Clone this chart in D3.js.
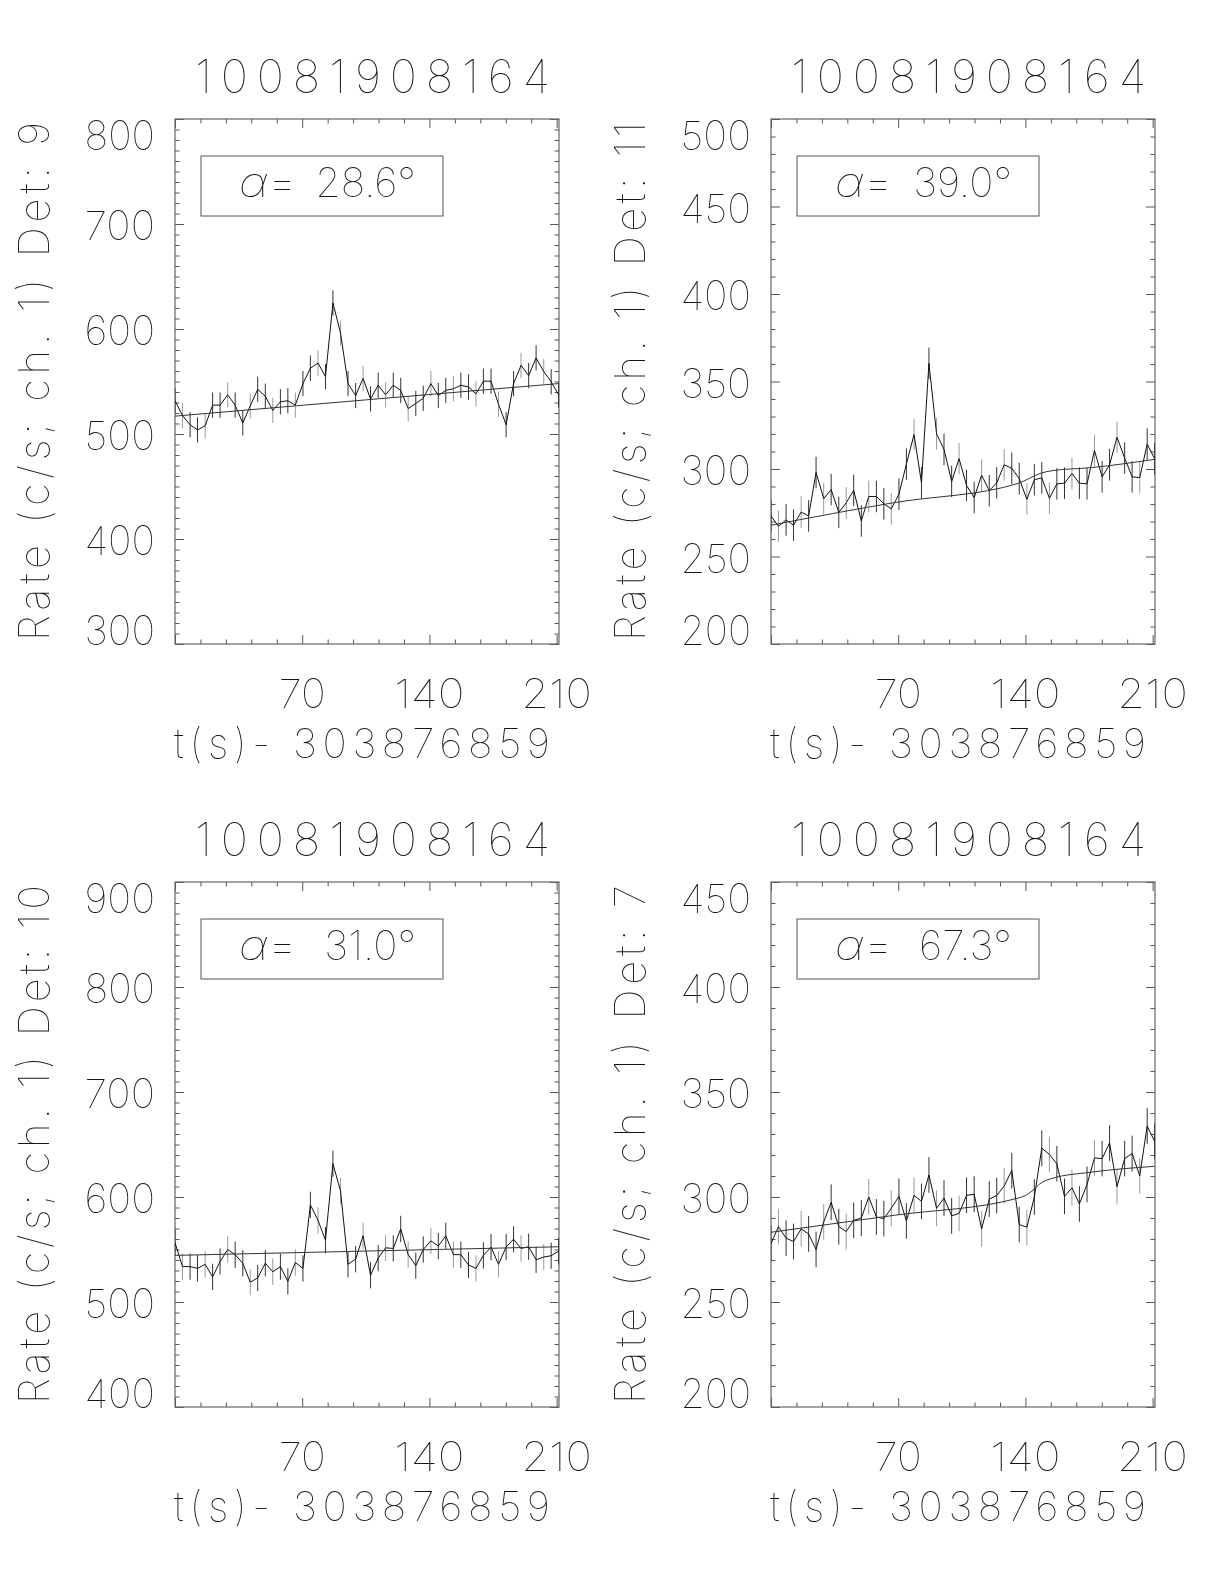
<!DOCTYPE html>
<html><head><meta charset="utf-8">
<script src="https://cdn.jsdelivr.net/npm/d3@7"></script>
<style>body{margin:0;background:#fff} svg{display:block; will-change:transform}</style>
</head><body>
<svg id="c" width="1224" height="1584"></svg>
<script>
// ---------- data ----------
const times = [0,4.1,8.3,12.4,16.6,20.7,24.8,29.0,33.1,37.3,41.4,45.5,49.7,53.8,58.0,62.1,66.2,70.4,74.5,78.7,82.8,86.9,91.1,95.2,99.4,103.5,107.6,111.8,115.9,120.1,124.2,128.3,132.5,136.6,140.8,144.9,149.0,153.2,157.3,161.5,165.6,169.7,173.9,178.0,182.2,186.3,190.4,194.6,198.7,202.9,207.0,211.1];

const titles = ["10081908164","10081908164","10081908164","10081908164"];
const detectors = ["9","11","10","7"];
const alphas = ["28.6","39.0","31.0","67.3"];
const xTitle = "t(s)- 303876859";

const rateDet9 = [531.7,517.6,508.8,503.9,507.8,527.5,527.5,537.3,527.5,510.5,526.8,542.5,536.0,522.5,530.7,531.7,527.5,548.0,562.7,567.6,554.6,624.8,596.1,548.0,536.6,552.9,533.3,546.4,537.3,546.4,541.5,524.2,529.1,534.0,548.0,536.6,541.5,543.1,546.4,544.8,538.2,550.3,550.3,528.4,508.8,548.0,565.4,555.6,572.5,559.5,549.7,537.3];
const rateDet11 = [273.2,267.3,270.9,267.9,275.4,273.2,298.0,283.1,288.2,275.2,280.7,287.8,270.3,284.3,284.3,280.1,277.2,285.6,302.8,319.7,292.1,360.4,320.1,311.2,292.9,305.9,290.6,283.7,296.5,287.6,292.1,302.4,300.4,294.5,282.7,293.9,294.9,283.3,291.5,291.9,297.4,291.9,291.5,310.6,295.5,302.4,318.1,306.3,295.5,295.1,314.2,305.9];
const rateDet10 = [556.5,533.7,533.7,532.0,535.9,523.9,538.6,550.0,545.1,536.9,518.9,522.9,536.9,528.8,533.7,519.6,537.6,532.0,592.5,577.8,558.8,631.7,605.6,535.9,540.8,563.1,525.5,541.8,551.6,551.0,569.6,545.1,534.6,550.0,558.2,553.3,563.1,545.1,545.1,535.3,532.0,544.4,552.3,535.9,552.3,559.8,551.0,552.6,540.2,542.8,544.1,548.4];
const rateDet7 = [277.8,285.9,280.4,278.8,284.8,282.4,275.0,288.1,297.5,285.9,283.5,288.9,290.0,300.0,290.5,289.7,294.6,300.3,288.6,300.8,297.9,310.5,294.6,299.5,291.0,292.2,300.8,301.3,284.8,299.0,300.7,305.2,312.6,286.9,285.6,300.0,323.2,320.3,315.8,300.3,304.4,296.7,306.0,318.6,318.3,325.7,304.9,318.3,320.7,310.1,333.8,326.5];
const errHalf = [12, 9, 12.5, 8.5];

// background-model curves (knots)
const modelT9  = [0, 105, 211];           const model9  = [517, 532.5, 548];
const modelT11 = [0, 67.3, 136.4, 141.8, 149.1, 154.5, 176.4, 211]; const model11 = [267.9, 280.7, 291.9, 294.5, 297.8, 299.0, 300.8, 305.5];
const modelT10 = [0, 105, 211];           const model10 = [544.4, 548.5, 552.6];
const modelT7  = [0, 68, 136, 140, 143.6, 149, 154.5, 176, 211]; const model7 = [283.2, 291.3, 299.5, 300.7, 302.8, 306.9, 308.8, 311.8, 314.6];

const yMin = [300, 200, 400, 200];
const yMax = [800, 500, 900, 450];
const yMajorStep = [100, 50, 100, 50];
const yMinorStep = [10, 10, 10, 10];
const xMax = 211.3;
const xMajorTicks = [0, 70, 140, 210];
const xTickLabels = ["", "70", "140", "210"];
const xMinorStep = 14;

const rates = [rateDet9, rateDet11, rateDet10, rateDet7];
const modelTs = [modelT9, modelT11, modelT10, modelT7];
const models = [model9, model11, model10, model7];

// ---------- layout ----------
const colLeft = [175, 771], rowTop = [119, 882], W = 384, H = 525;
const FONT = "Inter, Roboto, 'DejaVu Sans', sans-serif";
const FW = 100;
const TXT = "#151515";

const svg = d3.select("#c");

for (let i = 0; i < 4; i++) {
  const x0 = colLeft[i % 2], y0 = rowTop[Math.floor(i / 2)];
  const g = svg.append("g");
  const x = d3.scaleLinear().domain([0, xMax]).range([x0, x0 + W]);
  const y = d3.scaleLinear().domain([yMin[i], yMax[i]]).range([y0 + H, y0]);

  const yMaj = d3.range(yMin[i], yMax[i] + 0.001, yMajorStep[i]);
  const yMin_ = d3.range(yMin[i], yMax[i] + 0.001, yMinorStep[i]).filter(v => !yMaj.some(m => Math.abs(m - v) < 1e-6));
  const xMin_ = d3.range(0, xMax, xMinorStep).filter(v => !xMajorTicks.includes(v));

  const tickStyle = sel => { sel.select(".domain").remove(); sel.selectAll("line").attr("stroke", "#555").attr("stroke-width", 1); sel.selectAll("text").remove(); };

  g.append("g").attr("transform", `translate(${x0},0)`).call(d3.axisLeft(y).tickValues(yMaj).tickSize(-9)).call(tickStyle);
  g.append("g").attr("transform", `translate(${x0},0)`).call(d3.axisLeft(y).tickValues(yMin_).tickSize(-4.5)).call(tickStyle);
  g.append("g").attr("transform", `translate(${x0 + W},0)`).call(d3.axisRight(y).tickValues(yMaj).tickSize(-9)).call(tickStyle);
  g.append("g").attr("transform", `translate(${x0 + W},0)`).call(d3.axisRight(y).tickValues(yMin_).tickSize(-4.5)).call(tickStyle);
  g.append("g").attr("transform", `translate(0,${y0 + H})`).call(d3.axisBottom(x).tickValues(xMajorTicks).tickSize(-9)).call(tickStyle);
  g.append("g").attr("transform", `translate(0,${y0 + H})`).call(d3.axisBottom(x).tickValues(xMin_).tickSize(-4.5)).call(tickStyle);
  g.append("g").attr("transform", `translate(0,${y0})`).call(d3.axisTop(x).tickValues(xMajorTicks).tickSize(-9)).call(tickStyle);
  g.append("g").attr("transform", `translate(0,${y0})`).call(d3.axisTop(x).tickValues(xMin_).tickSize(-4.5)).call(tickStyle);

  g.append("rect").attr("x", x0).attr("y", y0).attr("width", W).attr("height", H)
    .attr("fill", "none").attr("stroke", "#666").attr("stroke-width", 1.2);

  // y tick labels
  g.selectAll(".yl").data(yMaj).enter().append("text")
    .attr("x", x0 - 20)
    .attr("y", v => Math.min(Math.max(y(v) + 16, y0 + 31), y0 + H + 1))
    .attr("text-anchor", "end").attr("font-family", FONT).attr("font-weight", FW)
    .attr("font-size", 40).attr("fill", TXT)
    .attr("textLength", v => String(v).length * 23.5).attr("lengthAdjust", "spacingAndGlyphs")
    .text(v => v);

  // x tick labels
  g.selectAll(".xl").data(xMajorTicks).enter().append("text")
    .attr("x", v => x(v)).attr("y", y0 + H + 64)
    .attr("text-anchor", "middle").attr("font-family", FONT).attr("font-weight", FW)
    .attr("font-size", 40).attr("fill", TXT)
    .attr("textLength", (v, k) => Math.max(1, xTickLabels[k].length * 23.5)).attr("lengthAdjust", "spacingAndGlyphs")
    .text((v, k) => xTickLabels[k]);

  // x title
  g.append("text").attr("x", x0 - 1).attr("y", y0 + H + 114)
    .attr("font-family", FONT).attr("font-weight", FW).attr("font-size", 41).attr("fill", TXT)
    .attr("textLength", 376).attr("lengthAdjust", "spacing").text(xTitle);

  // panel title
  g.append("text").attr("x", x0 + 20).attr("y", y0 - 26)
    .attr("font-family", FONT).attr("font-weight", FW).attr("font-size", 46).attr("fill", TXT)
    .attr("textLength", 355).attr("lengthAdjust", "spacing").text(titles[i]);

  // y title
  const ytx = x0 - 126, yty = y0 + H / 2;
  g.append("text").attr("transform", `translate(${ytx},${yty}) rotate(-90)`)
    .attr("text-anchor", "middle").attr("font-family", FONT).attr("font-weight", FW)
    .attr("font-size", 42).attr("fill", TXT)
    .attr("textLength", 519).attr("lengthAdjust", "spacing")
    .text(`Rate (c/s; ch. 1) Det: ${detectors[i]}`);

  // alpha box
  g.append("rect").attr("x", x0 + 26).attr("y", y0 + 37).attr("width", 242).attr("height", 60)
    .attr("fill", "none").attr("stroke", "#555").attr("stroke-width", 1);
  const at = g.append("text").attr("x", x0 + 64).attr("y", y0 + 78)
    .attr("font-family", FONT).attr("font-weight", FW).attr("font-size", 41).attr("fill", TXT)
    .attr("textLength", 58).attr("lengthAdjust", "spacingAndGlyphs");
  at.append("tspan").attr("font-style", "italic").text("\u03B1");
  at.append("tspan").text("=");
  g.append("text").attr("x", x0 + 241).attr("y", y0 + 78).attr("text-anchor", "end")
    .attr("font-family", FONT).attr("font-weight", FW).attr("font-size", 41).attr("fill", TXT)
    .text(`${alphas[i]}\u00B0`);

  const cid = "clip" + i;
  svg.append("clipPath").attr("id", cid).append("rect").attr("x", x0).attr("y", y0).attr("width", W).attr("height", H);
  const pg = g.append("g").attr("clip-path", `url(#${cid})`);

  const pts = times.map((t, k) => ({ t, v: rates[i][k] }));
  pg.selectAll(".eb").data(pts).enter().append("line")
    .attr("x1", d => x(d.t)).attr("x2", d => x(d.t))
    .attr("y1", d => y(d.v - errHalf[i])).attr("y2", d => y(d.v + errHalf[i]))
    .attr("stroke", (d, k) => k % 3 === 1 ? "#999" : "#333").attr("stroke-width", 1);
  pg.append("path").datum(pts)
    .attr("d", d3.line().x(d => x(d.t)).y(d => y(d.v)))
    .attr("fill", "none").attr("stroke", "#111").attr("stroke-width", 1);
  const mp = modelTs[i].map((t, k) => ({ t, v: models[i][k] }));
  pg.append("path").datum(mp)
    .attr("d", d3.line().curve(d3.curveMonotoneX).x(d => x(d.t)).y(d => y(d.v)))
    .attr("fill", "none").attr("stroke", "#333").attr("stroke-width", 1);
}
</script>
</body></html>
